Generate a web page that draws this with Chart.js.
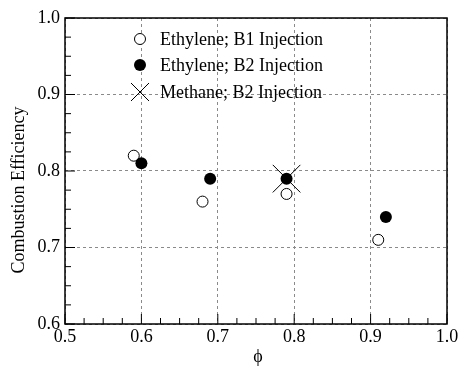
<!DOCTYPE html>
<html>
<head>
<meta charset="utf-8">
<script src="https://cdn.jsdelivr.net/npm/chart.js@4"></script>
<style>
  html, body { margin: 0; padding: 0; background: #fff; }
  #wrap { width: 459px; height: 369px; }
</style>
</head>
<body>
<div id="wrap"><canvas id="combustion-chart" width="459" height="369"></canvas></div>
<script>
// data
var b1Phi = [0.59, 0.68, 0.79, 0.91];
var b1Eff = [0.82, 0.76, 0.77, 0.71];
var b2Phi = [0.60, 0.69, 0.79, 0.92];
var b2Eff = [0.81, 0.79, 0.79, 0.74];
var methanePhi = [0.79];
var methaneEff = [0.79];
var seriesLabels = ['Ethylene; B1 Injection', 'Ethylene; B2 Injection', 'Methane; B2 Injection'];
var xTicks = [0.5, 0.6, 0.7, 0.8, 0.9, 1.0];
var yTicks = [0.6, 0.7, 0.8, 0.9, 1.0];

var FONT = '"Liberation Serif", "Times New Roman", serif';

function pts(xs, ys){
	return xs.map(function(x, i){ return {x: x, y: ys[i]}; });
}

// frame, inward ticks, legend and axis titles
var decor = {
	id: 'decor',
	afterDraw: function(chart){
		var ctx = chart.ctx;
		var a = chart.chartArea;
		var xs = chart.scales.x, ys = chart.scales.y;
		ctx.save();
		ctx.strokeStyle = '#000';
		ctx.lineWidth = 1.5;
		ctx.setLineDash([]);
		ctx.strokeRect(a.left, a.top, a.right - a.left, a.bottom - a.top);

		ctx.lineWidth = 1;
		ctx.beginPath();
		for (var v = 0.5; v <= 1.0001; v += 0.025){
			var px = xs.getPixelForValue(v);
			var major = Math.abs(v * 10 - Math.round(v * 10)) < 1e-6;
			ctx.moveTo(px, a.bottom);
			ctx.lineTo(px, a.bottom - (major ? 10 : 6));
		}
		for (var w = 0.6; w <= 1.0001; w += 0.025){
			var py = ys.getPixelForValue(w);
			var maj = Math.abs(w * 10 - Math.round(w * 10)) < 1e-6;
			ctx.moveTo(a.left, py);
			ctx.lineTo(a.left + (maj ? 10 : 6), py);
		}
		ctx.stroke();

		// legend
		var rows = [39, 65, 92];
		var mx = 140;
		ctx.font = '18px ' + FONT;
		ctx.fillStyle = '#000';
		ctx.textBaseline = 'middle';
		ctx.textAlign = 'left';
		rows.forEach(function(ry, i){
			ctx.beginPath();
			if (i == 0){
				ctx.arc(mx, ry, 5.5, 0, Math.PI * 2);
				ctx.fillStyle = '#fff';
				ctx.fill();
				ctx.stroke();
			} else if (i == 1){
				ctx.arc(mx, ry, 6, 0, Math.PI * 2);
				ctx.fillStyle = '#000';
				ctx.fill();
			} else {
				ctx.moveTo(mx - 9, ry - 9); ctx.lineTo(mx + 9, ry + 9);
				ctx.moveTo(mx - 9, ry + 9); ctx.lineTo(mx + 9, ry - 9);
				ctx.stroke();
			}
			ctx.fillStyle = '#000';
			ctx.fillText(seriesLabels[i], 160, ry + 1);
		});

		// axis titles
		ctx.textAlign = 'center';
		ctx.fillText('\u03D5', (a.left + a.right) / 2 + 2, 357);
		ctx.translate(19, 190);
		ctx.rotate(-Math.PI / 2);
		ctx.fillText('Combustion Efficiency', 0, 0);
		ctx.restore();
	}
};

var ctx = document.getElementById('combustion-chart');
var chart = new Chart(ctx, {
	type: 'scatter',
	data: {
		datasets: [{
			label: seriesLabels[2],
			data: pts(methanePhi, methaneEff),
			pointStyle: 'crossRot',
			pointRadius: 19.5,
			borderColor: '#000',
			borderWidth: 1,
			order: 0
		}, {
			label: seriesLabels[1],
			data: pts(b2Phi, b2Eff),
			pointStyle: 'circle',
			pointRadius: 6,
			backgroundColor: '#000',
			borderColor: '#000',
			borderWidth: 0,
			order: 1
		}, {
			label: seriesLabels[0],
			data: pts(b1Phi, b1Eff),
			pointStyle: 'circle',
			pointRadius: 5.5,
			backgroundColor: '#fff',
			borderColor: '#000',
			borderWidth: 1,
			order: 2
		}]
	},
	options: {
		responsive: false,
		animation: false,
		layout: { autoPadding: false, padding: { left: 0, right: 12, top: 18, bottom: 0 } },
		plugins: { legend: { display: false }, tooltip: { enabled: false } },
		scales: {
			x: {
				type: 'linear',
				min: 0.5, max: 1.0,
				afterBuildTicks: function(s){ s.ticks = xTicks.map(function(v){ return {value: v}; }); },
				afterFit: function(s){ s.height = 45; s.paddingLeft = 0; s.paddingRight = 0; },
				ticks: {
					color: '#000',
					padding: 2,
					font: { family: FONT, size: 18 },
					callback: function(v){ return v.toFixed(1); }
				},
				grid: { color: '#8a8a8a', lineWidth: 1, drawTicks: false },
				border: { display: false, dash: [3, 3] }
			},
			y: {
				type: 'linear',
				min: 0.6, max: 1.0,
				afterBuildTicks: function(s){ s.ticks = yTicks.map(function(v){ return {value: v}; }); },
				afterFit: function(s){ s.width = 65; s.paddingTop = 0; s.paddingBottom = 0; },
				ticks: {
					color: '#000',
					padding: 5,
					font: { family: FONT, size: 18 },
					callback: function(v){ return v.toFixed(1); }
				},
				grid: { color: '#8a8a8a', lineWidth: 1, drawTicks: false },
				border: { display: false, dash: [3, 3] }
			}
		}
	},
	plugins: [decor]
});
</script>
</body>
</html>
